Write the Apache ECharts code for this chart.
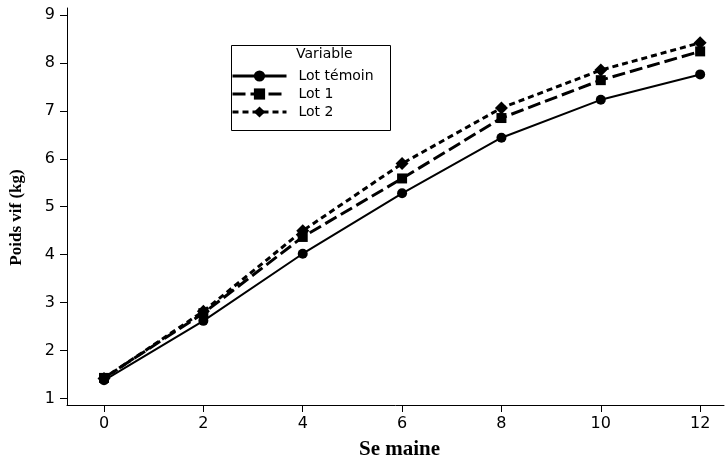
<!DOCTYPE html>
<html>
<head>
<meta charset="utf-8">
<script src="https://cdn.jsdelivr.net/npm/echarts@6/dist/echarts.min.js"></script>
<style>html,body{margin:0;padding:0;background:#fff}#c{width:728px;height:465px}</style>
</head>
<body>
<div id="c"></div>
<script>
var weeks = [0, 2, 4, 6, 8, 10, 12];
var lotTemoin = [1.38, 2.62, 4.02, 5.28, 6.44, 7.23, 7.76];
var lot1 = [1.43, 2.78, 4.37, 5.59, 6.85, 7.64, 8.24];
var lot2 = [1.42, 2.82, 4.50, 5.90, 7.06, 7.85, 8.42];
var xTicks = [0, 2, 4, 6, 8, 10, 12];
var yTicks = [1, 2, 3, 4, 5, 6, 7, 8, 9];
var seriesNames = ['Lot témoin', 'Lot 1', 'Lot 2'];

function pairs(vals) { return weeks.map(function (w, i) { return [w, vals[i]]; }); }

var chart = echarts.init(document.getElementById('c'), null, { renderer: 'canvas' });
var tickFont = { fontFamily: 'DejaVu Sans', fontSize: 16, color: '#000' };
chart.setOption({
  animation: false,
  backgroundColor: '#fff',
  grid: { left: 67, right: 4, top: 8, bottom: 57 },
  xAxis: {
    type: 'value', min: -0.745, max: 12.48,
    name: 'Se maine', nameLocation: 'middle', nameGap: 34,
    nameTextStyle: { fontFamily: 'Liberation Serif', fontWeight: 'bold', fontSize: 21, color: '#000', padding: [0, 0, 0, 8] },
    axisLine: { show: true, onZero: false, lineStyle: { color: '#000', width: 1 } },
    axisTick: { show: true, length: 7, lineStyle: { color: '#000' }, customValues: xTicks },
    axisLabel: Object.assign({ margin: 11, customValues: xTicks }, tickFont),
    splitLine: { show: false }
  },
  yAxis: {
    type: 'value', min: 0.865, max: 9.145,
    name: 'Poids vif (kg)', nameLocation: 'middle', nameGap: 42, nameRotate: 90,
    nameTextStyle: { fontFamily: 'Liberation Serif', fontWeight: 'bold', fontSize: 17, color: '#000', padding: [0, 22, 0, 0] },
    axisLine: { show: true, onZero: false, lineStyle: { color: '#000', width: 1 } },
    axisTick: { show: true, length: 7, lineStyle: { color: '#000' }, customValues: yTicks },
    axisLabel: Object.assign({ margin: 12, customValues: yTicks }, tickFont),
    splitLine: { show: false }
  },
  legend: {
    orient: 'vertical', left: 231, top: 69, padding: 0,
    itemWidth: 54, itemHeight: 14, itemGap: 4,
    data: seriesNames,
    lineStyle: { width: 3 },
    textStyle: { fontFamily: 'DejaVu Sans', fontSize: 14, color: '#000', padding: [0, 0, 0, 7] }
  },
  graphic: [
    { type: 'rect', left: 229, top: 43, shape: { width: 159, height: 85 }, style: { fill: 'none', stroke: '#000', lineWidth: 1 }, z: 10 },
    { type: 'text', left: 296, top: 47, style: { text: 'Variable', font: '14px "DejaVu Sans"', fill: '#000' }, z: 10 }
  ],
  series: [
    { name: seriesNames[0], type: 'line', data: pairs(lotTemoin), symbol: 'circle', symbolSize: 10,
      lineStyle: { color: '#000', width: 2, type: 'solid' }, itemStyle: { color: '#000' } },
    { name: seriesNames[1], type: 'line', data: pairs(lot1), symbol: 'rect', symbolSize: 10,
      lineStyle: { color: '#000', width: 3, type: [13, 5] }, itemStyle: { color: '#000' } },
    { name: seriesNames[2], type: 'line', data: pairs(lot2), symbol: 'diamond', symbolSize: 13,
      lineStyle: { color: '#000', width: 3, type: [6, 4] }, itemStyle: { color: '#000' } }
  ]
});
</script>
</body>
</html>
